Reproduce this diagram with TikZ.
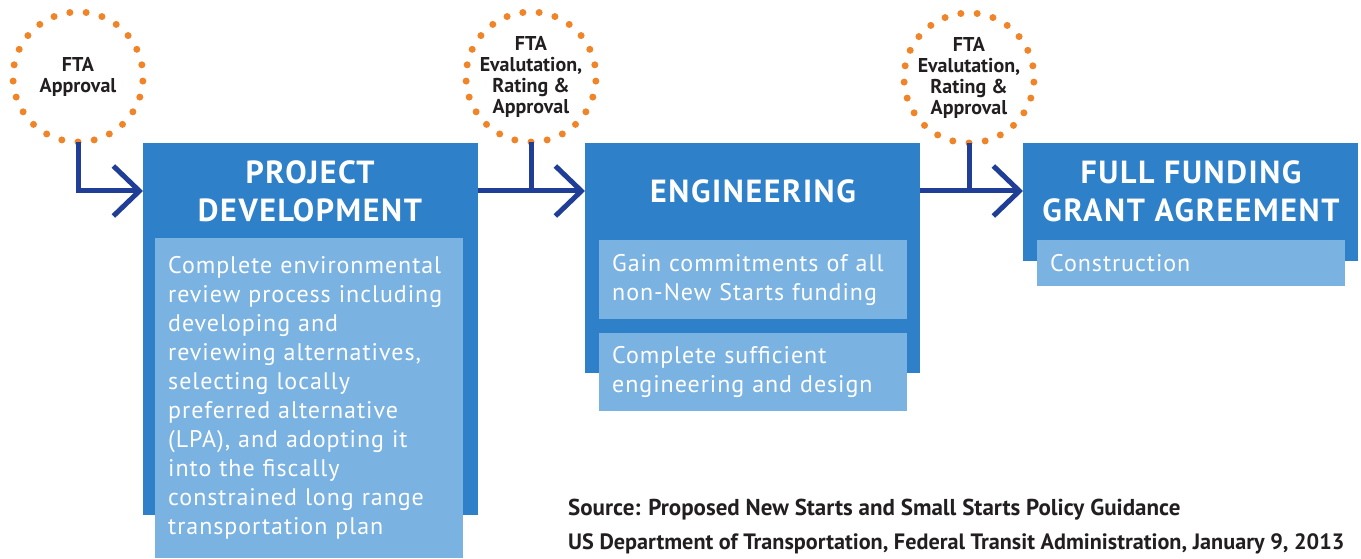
\documentclass[tikz,border=0pt]{standalone}
\usepackage{fontspec}
\setmainfont{PT Sans}
\newfontfamily\headfont{PT Sans}[LetterSpace=5]
\newfontfamily\bodyfont{PT Sans}[LetterSpace=4]
\usetikzlibrary{positioning,arrows.meta}

\definecolor{stageblue}{RGB}{46,128,200}
\definecolor{taskblue}{RGB}{122,178,226}
\definecolor{navy}{RGB}{32,62,150}
\definecolor{dotorange}{RGB}{240,132,40}
\definecolor{ink}{RGB}{35,31,32}

\tikzset{
  gate/.style={circle, minimum size=130pt, inner sep=0pt, align=center, text=ink,
    font=\bfseries\fontsize{20}{21}\selectfont},
  stage/.style={fill=stageblue, inner sep=0pt, minimum width=335pt, anchor=north west},
  task/.style={fill=taskblue, text=white, text width=282pt, inner xsep=13pt, inner ysep=0pt,
    align=left, anchor=north west, font=\bodyfont\fontsize{24}{29}\selectfont},
  head/.style={text=white, align=center, font=\headfont\bfseries\fontsize{32}{38}\selectfont},
  flow/.style={draw=navy, line width=5pt, line join=miter, -{Straight Barb[length=26pt,width=50pt]}},
  link/.style={draw=navy, line width=5pt},
  source/.style={anchor=base west, inner sep=0pt, text=ink,
    font=\bfseries\fontsize{23}{23}\selectfont}
}

\begin{document}
\begin{tikzpicture}[x=1pt, y=-1pt]
  \useasboundingbox (0,0) rectangle (1361,559);

  % approval gates
  \node[gate] (g1) at (78,77)  {FTA\\Approval};
  \node[gate] (g2) at (531,77) {FTA\\Evalutation,\\Rating \&\\Approval};
  \node[gate] (g3) at (969,78) {FTA\\Evalutation,\\Rating \&\\Approval};
  \foreach \g in {g1,g2,g3}
    \foreach \k in {0,...,24}
      \fill[dotorange] (\g) ++({90+14.4*\k}:65) circle (3.5);

  % stages
  \node[stage, minimum height=372pt] (st1) at (143,143)  {};
  \node[stage, minimum height=230pt] (st2) at (585,143)  {};
  \node[stage, minimum height=118pt] (st3) at (1023,143) {};

  \node[head] (hd1) at (310,191)  {PROJECT\\DEVELOPMENT};
  \node[head] (hd2) at (753,191)  {ENGINEERING};
  \node[head] (hd3) at (1191,191) {FULL FUNDING\\GRANT AGREEMENT};

  % tasks
  \node[task, minimum height=320pt] (t1) at (155,238) {Complete environmental\\review process including\\developing and\\reviewing alternatives,\\selecting locally\\preferred alternative\\(LPA), and adopting it\\into the fiscally\\constrained long range\\transportation plan};
  \node[task, minimum height=79pt] (t2a) at (599,240) {Gain commitments of all\\non-New Starts funding};
  \node[task, minimum height=78pt, below=13pt of t2a] (t2b) {Complete sufficient\\engineering and design};
  \node[task, minimum height=46pt] (t3) at (1037,240) {Construction};

  % arrows
  \draw[flow] (g1.south) |- (st1.west |- hd1);
  \draw[flow] (st1.east |- hd1) -- (st2.west |- hd2);
  \draw[link] (g2.south) -- (g2.south |- hd2);
  \draw[flow] (st2.east |- hd2) -- (st3.west |- hd3);
  \draw[link] (g3.south) -- (g3.south |- hd3);

  \node[source] (src1) at (568,515) {Source: Proposed New Starts and Small Starts Policy Guidance};
  \node[source, font=\bfseries\fontsize{22.2}{23}\selectfont] (src2) at (568,549) {US Department of Transportation, Federal Transit Administration, January 9, 2013};
\end{tikzpicture}
\end{document}
